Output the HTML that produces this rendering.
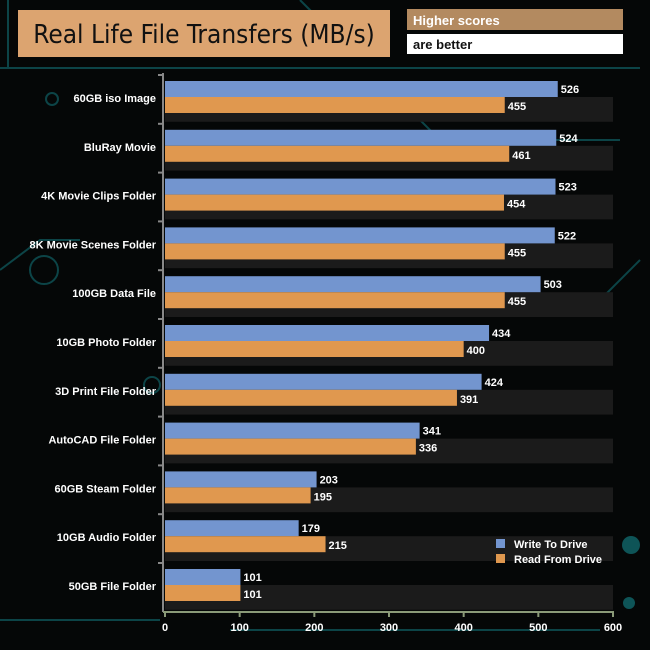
<!DOCTYPE html>
<html><head><meta charset="utf-8"><style>
body{margin:0;background:#000;}
svg{display:block;font-family:"Liberation Sans",sans-serif;}
</style></head><body>
<svg width="650" height="650" viewBox="0 0 650 650">
<rect width="650" height="650" fill="#050707"/>
<g stroke="#0e5457" stroke-width="2" fill="none" opacity="0.8">
<path d="M0 68 L640 68"/><path d="M8 0 L8 68"/><path d="M300 0 L320 20"/><path d="M420 120 L440 140 L620 140"/>
<path d="M0 270 L40 240 L80 240"/><path d="M640 260 L600 300"/><path d="M0 620 L160 620"/><path d="M230 630 L600 630"/>
<circle cx="44" cy="270" r="14"/><circle cx="152" cy="385" r="8"/><circle cx="52" cy="99" r="6"/>
</g>
<circle cx="631" cy="545" r="9" fill="#0e5457"/><circle cx="629" cy="603" r="6" fill="#0e5457"/>
<rect x="18" y="10" width="372" height="47" fill="#dca470"/>
<text x="204" y="43" font-size="26" text-anchor="middle" fill="#111" font-family="'DejaVu Sans Condensed','Liberation Sans',sans-serif">Real Life File Transfers (MB/s)</text>
<rect x="407" y="9" width="216" height="21" fill="#b38a60"/>
<text x="413" y="25" font-size="13" font-weight="bold" fill="#fff">Higher scores</text>
<rect x="407" y="34" width="216" height="20" fill="#fff"/>
<text x="413" y="49" font-size="13" font-weight="bold" fill="#111">are better</text>
<g id="plot"></g>
<rect x="496" y="539" width="9" height="9" fill="#7395cf"/>
<text x="514" y="548" font-size="11" font-weight="bold" fill="#fff">Write To  Drive</text>
<rect x="496" y="554" width="9" height="9" fill="#e0984f"/>
<text x="514" y="563" font-size="11" font-weight="bold" fill="#fff">Read From  Drive</text>
</svg>
<script>
const categories=["60GB iso Image","BluRay Movie","4K Movie Clips Folder","8K Movie Scenes Folder","100GB Data File","10GB Photo Folder","3D Print File Folder","AutoCAD File Folder","60GB Steam Folder","10GB Audio Folder","50GB File Folder"];
const writeVals=[526,524,523,522,503,434,424,341,203,179,101];
const readVals=[455,461,454,455,455,400,391,336,195,215,101];
const ticks=[0,100,200,300,400,500,600];
const NS="http://www.w3.org/2000/svg";
const g=document.getElementById('plot');
const x0=165,x1=613,top0=75,rowH=48.8,axisY=612;
const xs=v=>x0+(v/600)*(x1-x0);
function mk(t,a){const e=document.createElementNS(NS,t);for(const k in a)e.setAttribute(k,a[k]);g.appendChild(e);return e;}
categories.forEach((c,i)=>{
 const t=top0+i*rowH;
 const band=mk('rect',{x:x0,y:t+22,width:x1-x0,height:rowH-24,fill:'#1b1b1b'});
 
 
 const b1=mk('rect',{x:x0,y:t+6,width:xs(writeVals[i])-x0,height:16,fill:'#7395cf'});
 
 
 const b2=mk('rect',{x:x0,y:t+22,width:xs(readVals[i])-x0,height:16,fill:'#e0984f'});
 
 
 const l1=mk('text',{x:xs(writeVals[i])+3,y:t+18,'font-size':11,'font-weight':'bold',fill:'#fff'});l1.textContent=writeVals[i];
 
 
 const l2=mk('text',{x:xs(readVals[i])+3,y:t+35,'font-size':11,'font-weight':'bold',fill:'#fff'});l2.textContent=readVals[i];
 
 
 const cl=mk('text',{x:156,y:t+27,'font-size':11,'font-weight':'bold',fill:'#fff','text-anchor':'end'});cl.textContent=c;
 
 
 const tk=mk('line',{x1:158,x2:163,y1:t,y2:t,stroke:'#888','stroke-width':2});
 
 
});
const ya=mk('line',{x1:163,x2:163,y1:top0-2,y2:axisY,stroke:'#888','stroke-width':2});


const xa=mk('line',{x1:163,x2:x1+1,y1:axisY,y2:axisY,stroke:'#8a9a78','stroke-width':2});


ticks.forEach(v=>{
 const tl=mk('line',{x1:xs(v),x2:xs(v),y1:axisY,y2:axisY+5,stroke:'#8a9a78','stroke-width':2});
 
 
 const tt=mk('text',{x:xs(v),y:631,'font-size':11,'font-weight':'bold',fill:'#fff','text-anchor':'middle'});tt.textContent=v;
 
 
});
</script>
</body></html>
